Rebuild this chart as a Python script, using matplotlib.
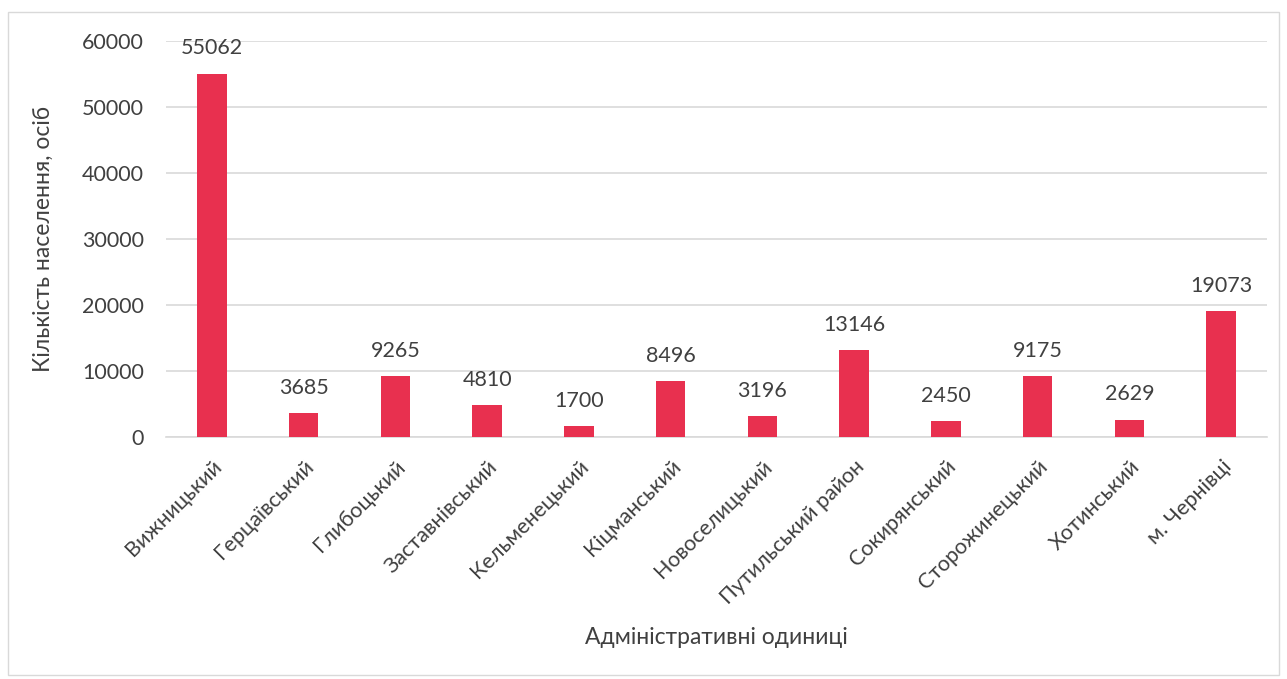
import matplotlib.pyplot as plt
from matplotlib.patches import Rectangle

plt.rcParams['font.family'] = ['Lato', 'DejaVu Sans']

districts = ['Вижницький', 'Герцаївський', 'Глибоцький', 'Заставнівський', 'Кельменецький',
             'Кіцманський', 'Новоселицький', 'Путильський район', 'Сокирянський',
             'Сторожинецький', 'Хотинський', 'м. Чернівці']
population = [55062, 3685, 9265, 4810, 1700, 8496, 3196, 13146, 2450, 9175, 2629, 19073]

bar_color = '#E8304F'
text_color = '#404040'

fig = plt.figure(figsize=(12.87, 6.79), dpi=100)
ax = fig.add_axes([0.129, 0.3564, 0.8555, 0.5832])

# chart border
fig.patches.append(Rectangle((0.006, 0.006), 0.988, 0.976, transform=fig.transFigure,
                             fill=False, edgecolor='#d9d9d9', linewidth=1))

x = range(len(districts))
ax.bar(x, population, width=0.32, color=bar_color, zorder=3)
for xi, v in zip(x, population):
    ax.text(xi, v + 2300, str(v), ha='center', va='bottom', fontsize=15.5, color=text_color)

ax.set_xlim(-0.5, len(districts) - 0.5)
ax.set_ylim(0, 60000)
ax.set_yticks(range(0, 60001, 10000))
ax.yaxis.grid(True, color='#d9d9d9', linewidth=1.2, zorder=0)
for s in ['top', 'right', 'left']:
    ax.spines[s].set_visible(False)
ax.spines['bottom'].set_color('#d9d9d9')
ax.spines['bottom'].set_linewidth(1.2)
ax.tick_params(axis='y', length=0, labelsize=15.5, colors=text_color, pad=16)
ax.set_xticks(list(x))
ax.set_xticklabels(districts, rotation=45, ha='right', rotation_mode='anchor')
ax.tick_params(axis='x', length=0, labelsize=15.5, colors=text_color, pad=14)

ax.set_xlabel('Адміністративні одиниці', fontsize=16.5, color=text_color, labelpad=14)
ax.set_ylabel('Кількість населення, осіб', fontsize=16.5, color=text_color, labelpad=20)

fig.savefig('out.png', dpi=100)
